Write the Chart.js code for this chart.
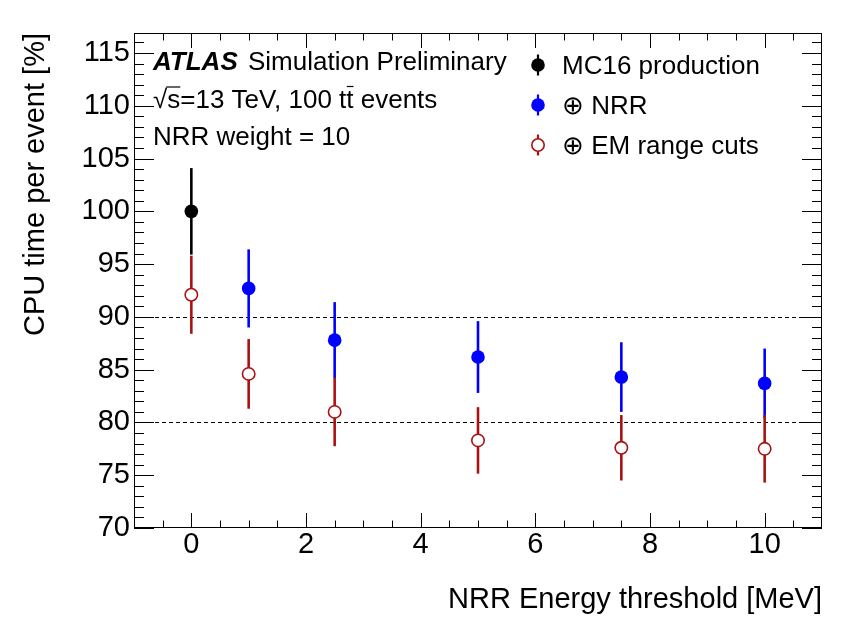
<!DOCTYPE html>
<html>
<head>
<meta charset="utf-8">
<script src="https://cdn.jsdelivr.net/npm/chart.js@4.4.0/dist/chart.umd.min.js"></script>
<style>
html, body { margin: 0; padding: 0; background: #fff; }
#chart { display: block; }
</style>
</head>
<body>
<canvas id="chart" width="846" height="620"></canvas>
<script>
// values
var mc16_x = [0];
var mc16_y = [100.0];
var mc16_err = [4.1];

var nrr_x = [1, 2.5, 5, 7.5, 10];
var nrr_y = [92.7, 87.8, 86.2, 84.3, 83.7];
var nrr_err = [3.7, 3.6, 3.4, 3.3, 3.3];

var em_x = [0, 1, 2.5, 5, 7.5, 10];
var em_y = [92.1, 84.6, 81.0, 78.3, 77.6, 77.5];
var em_err = [3.7, 3.3, 3.25, 3.15, 3.1, 3.2];

var ref_lines = [80, 90];
var x_ticks = [0, 2, 4, 6, 8, 10];
var y_ticks = [70, 75, 80, 85, 90, 95, 100, 105, 110, 115];

var FONT = '"Liberation Sans", Arial, Helvetica, sans-serif';
var RED = '#aa1212';

function points(xs, ys) {
    var out = [];
    for (var i = 0; i < xs.length; i++) out.push({ x: xs[i], y: ys[i] });
    return out;
}

// dashed reference lines + vertical error bars, under the markers
var errorBars = {
    id: 'errorBars',
    beforeDatasetsDraw: function (chart) {
        var ctx = chart.ctx;
        var a = chart.chartArea;
        var ys = chart.scales.y;
        ctx.save();
        ctx.strokeStyle = '#000';
        ctx.lineWidth = 1;
        ctx.setLineDash([4, 3]);
        ref_lines.forEach(function (v) {
            var py = Math.round(ys.getPixelForValue(v)) + 0.5;
            ctx.beginPath();
            ctx.moveTo(a.left, py);
            ctx.lineTo(a.right, py);
            ctx.stroke();
        });
        ctx.setLineDash([]);
        chart.data.datasets.forEach(function (ds, i) {
            var meta = chart.getDatasetMeta(i);
            ctx.strokeStyle = ds.borderColor;
            ctx.lineWidth = 2.6;
            meta.data.forEach(function (pt, j) {
                var v = ds.data[j].y;
                var e = ds.errors[j];
                ctx.beginPath();
                ctx.moveTo(pt.x, ys.getPixelForValue(v + e));
                ctx.lineTo(pt.x, ys.getPixelForValue(v - e));
                ctx.stroke();
            });
        });
        ctx.restore();
    }
};

// ROOT style frame with inside ticks on all four sides
var frame = {
    id: 'frame',
    afterDraw: function (chart) {
        var ctx = chart.ctx;
        var a = chart.chartArea;
        var xs = chart.scales.x;
        var ys = chart.scales.y;
        var v, p, len;
        ctx.save();
        ctx.strokeStyle = '#000';
        ctx.lineWidth = 1;
        ctx.strokeRect(a.left + 0.5, a.top + 0.5, a.right - a.left - 1, a.bottom - a.top - 1);
        ctx.beginPath();
        for (v = Math.ceil(ys.min); v <= ys.max; v += 1) {
            p = Math.round(ys.getPixelForValue(v)) + 0.5;
            len = (v % 5 === 0) ? 20 : 10;
            ctx.moveTo(a.left, p); ctx.lineTo(a.left + len, p);
            ctx.moveTo(a.right, p); ctx.lineTo(a.right - len, p);
        }
        for (v = xs.min + 0.5; v < xs.max; v += 0.5) {
            p = Math.round(xs.getPixelForValue(v)) + 0.5;
            len = (v % 2 === 0) ? 15 : 7.5;
            ctx.moveTo(p, a.bottom); ctx.lineTo(p, a.bottom - len);
            ctx.moveTo(p, a.top); ctx.lineTo(p, a.top + len);
        }
        ctx.stroke();
        ctx.restore();
    }
};

// ATLAS label block and the legend
var labels = {
    id: 'labels',
    afterDraw: function (chart) {
        var ctx = chart.ctx;
        ctx.save();
        ctx.fillStyle = '#000';
        ctx.strokeStyle = '#000';
        ctx.textBaseline = 'alphabetic';
        ctx.textAlign = 'left';

        ctx.font = 'italic bold 26px ' + FONT;
        ctx.fillText('ATLAS', 153, 69.5);
        ctx.font = '26px ' + FONT;
        ctx.fillText('Simulation Preliminary', 248, 69.5);

        var x = 153, base = 107.5;
        var wr = ctx.measureText('\u221A').width;
        ctx.fillText('\u221A', x, base);
        var ws = ctx.measureText('s').width;
        ctx.lineWidth = 1.2;
        ctx.beginPath();
        ctx.moveTo(x + wr - 1, base - 20.5);
        ctx.lineTo(x + wr + ws, base - 20.5);
        ctx.stroke();
        x += wr;
        var part = 's=13 TeV, 100 t';
        ctx.fillText(part, x, base);
        x += ctx.measureText(part).width;
        var wt = ctx.measureText('t').width;
        ctx.fillText('t', x, base);
        ctx.beginPath();
        ctx.moveTo(x + 0.5, base - 21);
        ctx.lineTo(x + wt, base - 21);
        ctx.stroke();
        x += wt;
        ctx.fillText(' events', x, base);

        ctx.fillText('NRR weight = 10', 153, 145);

        chart.data.datasets.forEach(function (ds, i) {
            var cy = 65 + i * 40;
            var mx = 538;
            ctx.strokeStyle = ds.borderColor;
            ctx.lineWidth = 2.2;
            ctx.beginPath();
            ctx.moveTo(mx, cy - 10.5);
            ctx.lineTo(mx, cy + 10.5);
            ctx.stroke();
            ctx.beginPath();
            ctx.arc(mx, cy, ds.pointRadius, 0, Math.PI * 2);
            ctx.fillStyle = ds.backgroundColor;
            ctx.fill();
            if (ds.borderWidth > 0) {
                ctx.lineWidth = ds.borderWidth;
                ctx.stroke();
            }
            ctx.fillStyle = '#000';
            ctx.font = '26px ' + FONT;
            ctx.fillText(ds.label, 562, cy + 9);
        });
        ctx.restore();
    }
};

var chart = new Chart(document.getElementById('chart'), {
    type: 'scatter',
    data: {
        datasets: [
            {
                label: 'MC16 production',
                data: points(mc16_x, mc16_y),
                errors: mc16_err,
                backgroundColor: '#000000',
                borderColor: '#000000',
                borderWidth: 0,
                pointRadius: 6.8
            },
            {
                label: '\u2295 NRR',
                data: points(nrr_x, nrr_y),
                errors: nrr_err,
                backgroundColor: '#0000ff',
                borderColor: '#0000ff',
                borderWidth: 0,
                pointRadius: 6.8
            },
            {
                label: '\u2295 EM range cuts',
                data: points(em_x, em_y),
                errors: em_err,
                backgroundColor: '#ffffff',
                borderColor: RED,
                borderWidth: 1.6,
                pointRadius: 6.2
            }
        ]
    },
    options: {
        responsive: false,
        animation: false,
        events: [],
        layout: { padding: { top: 33, right: 24, left: 0, bottom: 0 } },
        plugins: {
            legend: { display: false },
            tooltip: { enabled: false }
        },
        scales: {
            x: {
                type: 'linear',
                min: -1,
                max: 11,
                grid: { display: false, drawTicks: false },
                border: { display: false },
                afterBuildTicks: function (scale) {
                    scale.ticks = x_ticks.map(function (v) { return { value: v }; });
                },
                afterFit: function (scale) { scale.height = 92; },
                ticks: {
                    autoSkip: false,
                    maxRotation: 0,
                    padding: 0,
                    color: '#000',
                    font: { family: FONT, size: 29 }
                },
                title: {
                    display: true,
                    text: 'NRR Energy threshold [MeV]',
                    align: 'end',
                    color: '#000',
                    font: { family: FONT, size: 29 },
                    padding: { top: 0, bottom: 2.6 }
                }
            },
            y: {
                type: 'linear',
                min: 70,
                max: 116.9,
                grid: { display: false, drawTicks: false },
                border: { display: false },
                afterBuildTicks: function (scale) {
                    scale.ticks = y_ticks.map(function (v) { return { value: v }; });
                },
                afterFit: function (scale) { scale.width = 134; },
                ticks: {
                    autoSkip: false,
                    padding: 4,
                    color: '#000',
                    font: { family: FONT, size: 29 }
                },
                title: {
                    display: true,
                    text: 'CPU time per event [%]',
                    align: 'end',
                    color: '#000',
                    font: { family: FONT, size: 29 },
                    padding: { top: 19, bottom: 0 }
                }
            }
        }
    },
    plugins: [errorBars, frame, labels]
});
</script>
</body>
</html>
